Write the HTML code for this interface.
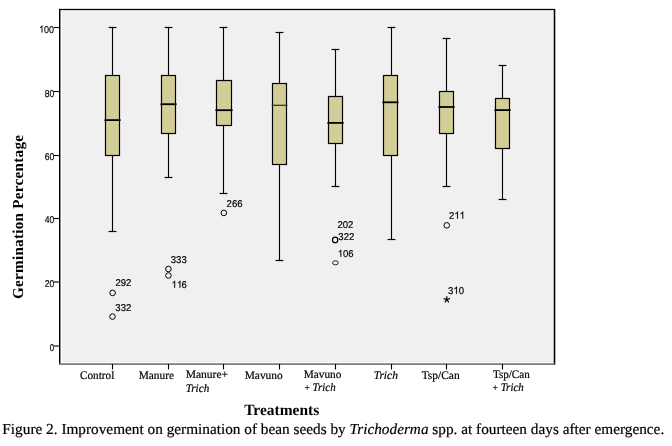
<!DOCTYPE html>
<html><head><meta charset="utf-8"><style>
html,body{margin:0;padding:0;background:#fff;width:672px;height:446px;overflow:hidden}
svg{display:block;will-change:transform}
text{fill:#000;text-rendering:geometricPrecision}
.sans{font-family:"Liberation Sans",sans-serif;stroke:#000;stroke-width:0.18px}
.serif{font-family:"Liberation Serif",serif;stroke:#000;stroke-width:0.2px}
.hid{fill:none;stroke:none}
.one{fill:#000;stroke:#000;stroke-width:36px}
.serifb{font-family:"Liberation Serif",serif;font-weight:bold}
</style></head><body>
<svg width="672" height="446" viewBox="0 0 672 446">
<rect x="61" y="10" width="493" height="353" fill="#ffffff"/>
<rect x="62" y="11" width="491" height="351" fill="#f0f0f0"/>
<rect x="59" y="9" width="1" height="355" fill="#000"/>
<rect x="60" y="9" width="1" height="355" fill="#888"/>
<rect x="59" y="8.85" width="496" height="1.3" fill="#000"/>
<rect x="553.7" y="9" width="1.6" height="356" fill="#000"/>
<rect x="59" y="363.3" width="496" height="1.6" fill="#707070"/>
<line x1="53.8" y1="27.5" x2="59.5" y2="27.5" stroke="#000" stroke-width="1.1"/>
<line x1="53.8" y1="91.5" x2="59.5" y2="91.5" stroke="#000" stroke-width="1.1"/>
<line x1="53.8" y1="155.5" x2="59.5" y2="155.5" stroke="#000" stroke-width="1.1"/>
<line x1="53.8" y1="218.5" x2="59.5" y2="218.5" stroke="#000" stroke-width="1.1"/>
<line x1="53.8" y1="282.0" x2="59.5" y2="282.0" stroke="#000" stroke-width="1.1"/>
<line x1="53.8" y1="346.0" x2="59.5" y2="346.0" stroke="#000" stroke-width="1.1"/>
<line x1="112.5" y1="364" x2="112.5" y2="369.5" stroke="#000" stroke-width="1.1"/>
<line x1="112.5" y1="27.5" x2="112.5" y2="75.5" stroke="#000" stroke-width="1.15"/>
<line x1="112.5" y1="155.5" x2="112.5" y2="231.5" stroke="#000" stroke-width="1.15"/>
<line x1="108.60" y1="27.5" x2="116.40" y2="27.5" stroke="#000" stroke-width="1.2"/>
<line x1="108.60" y1="231.5" x2="116.40" y2="231.5" stroke="#000" stroke-width="1.2"/>
<rect x="105.5" y="75.5" width="14" height="80" fill="#d3ce97" stroke="#000" stroke-width="1.2"/>
<line x1="104.4" y1="120.1" x2="120.6" y2="120.1" stroke="#000" stroke-width="1.8"/>
<line x1="168.5" y1="364" x2="168.5" y2="369.5" stroke="#000" stroke-width="1.1"/>
<line x1="168.5" y1="27.5" x2="168.5" y2="75.5" stroke="#000" stroke-width="1.15"/>
<line x1="168.5" y1="133.5" x2="168.5" y2="177.5" stroke="#000" stroke-width="1.15"/>
<line x1="164.60" y1="27.5" x2="172.40" y2="27.5" stroke="#000" stroke-width="1.2"/>
<line x1="164.60" y1="177.5" x2="172.40" y2="177.5" stroke="#000" stroke-width="1.2"/>
<rect x="161.5" y="75.5" width="14" height="58" fill="#d3ce97" stroke="#000" stroke-width="1.2"/>
<line x1="160.4" y1="104.2" x2="176.6" y2="104.2" stroke="#000" stroke-width="1.8"/>
<line x1="223.5" y1="364" x2="223.5" y2="369.5" stroke="#000" stroke-width="1.1"/>
<line x1="223.5" y1="27.5" x2="223.5" y2="80.5" stroke="#000" stroke-width="1.15"/>
<line x1="223.5" y1="125.5" x2="223.5" y2="193.5" stroke="#000" stroke-width="1.15"/>
<line x1="219.60" y1="27.5" x2="227.40" y2="27.5" stroke="#000" stroke-width="1.2"/>
<line x1="219.60" y1="193.5" x2="227.40" y2="193.5" stroke="#000" stroke-width="1.2"/>
<rect x="216.5" y="80.5" width="15" height="45" fill="#d3ce97" stroke="#000" stroke-width="1.2"/>
<line x1="215.4" y1="110.2" x2="232.6" y2="110.2" stroke="#000" stroke-width="1.8"/>
<line x1="279.5" y1="364" x2="279.5" y2="369.5" stroke="#000" stroke-width="1.1"/>
<line x1="279.5" y1="32.5" x2="279.5" y2="83.5" stroke="#000" stroke-width="1.15"/>
<line x1="279.5" y1="164.5" x2="279.5" y2="260.5" stroke="#000" stroke-width="1.15"/>
<line x1="275.60" y1="32.5" x2="283.40" y2="32.5" stroke="#000" stroke-width="1.2"/>
<line x1="275.60" y1="260.5" x2="283.40" y2="260.5" stroke="#000" stroke-width="1.2"/>
<rect x="272.5" y="83.5" width="14" height="81" fill="#d3ce97" stroke="#000" stroke-width="1.2"/>
<line x1="271.7" y1="105.3" x2="287.4" y2="105.3" stroke="#3a3420" stroke-width="1.3"/>
<line x1="335.5" y1="364" x2="335.5" y2="369.5" stroke="#000" stroke-width="1.1"/>
<line x1="335.5" y1="49.5" x2="335.5" y2="96.5" stroke="#000" stroke-width="1.15"/>
<line x1="335.5" y1="143.5" x2="335.5" y2="186.5" stroke="#000" stroke-width="1.15"/>
<line x1="331.60" y1="49.5" x2="339.40" y2="49.5" stroke="#000" stroke-width="1.2"/>
<line x1="331.60" y1="186.5" x2="339.40" y2="186.5" stroke="#000" stroke-width="1.2"/>
<rect x="328.5" y="96.5" width="14" height="47" fill="#d3ce97" stroke="#000" stroke-width="1.2"/>
<line x1="327.4" y1="122.9" x2="343.6" y2="122.9" stroke="#000" stroke-width="1.8"/>
<line x1="391.5" y1="364" x2="391.5" y2="369.5" stroke="#000" stroke-width="1.1"/>
<line x1="391.5" y1="27.5" x2="391.5" y2="75.5" stroke="#000" stroke-width="1.15"/>
<line x1="391.5" y1="155.5" x2="391.5" y2="239.5" stroke="#000" stroke-width="1.15"/>
<line x1="387.60" y1="27.5" x2="395.40" y2="27.5" stroke="#000" stroke-width="1.2"/>
<line x1="387.60" y1="239.5" x2="395.40" y2="239.5" stroke="#000" stroke-width="1.2"/>
<rect x="383.5" y="75.5" width="14" height="80" fill="#d3ce97" stroke="#000" stroke-width="1.2"/>
<line x1="382.4" y1="102.3" x2="398.6" y2="102.3" stroke="#000" stroke-width="1.8"/>
<line x1="446.5" y1="364" x2="446.5" y2="369.5" stroke="#000" stroke-width="1.1"/>
<line x1="446.5" y1="38.5" x2="446.5" y2="91.5" stroke="#000" stroke-width="1.15"/>
<line x1="446.5" y1="133.5" x2="446.5" y2="186.5" stroke="#000" stroke-width="1.15"/>
<line x1="442.60" y1="38.5" x2="450.40" y2="38.5" stroke="#000" stroke-width="1.2"/>
<line x1="442.60" y1="186.5" x2="450.40" y2="186.5" stroke="#000" stroke-width="1.2"/>
<rect x="439.5" y="91.5" width="14" height="42" fill="#d3ce97" stroke="#000" stroke-width="1.2"/>
<line x1="438.4" y1="107.0" x2="454.6" y2="107.0" stroke="#000" stroke-width="1.8"/>
<line x1="502.5" y1="364" x2="502.5" y2="369.5" stroke="#000" stroke-width="1.1"/>
<line x1="502.5" y1="65.5" x2="502.5" y2="98.5" stroke="#000" stroke-width="1.15"/>
<line x1="502.5" y1="148.5" x2="502.5" y2="199.5" stroke="#000" stroke-width="1.15"/>
<line x1="498.60" y1="65.5" x2="506.40" y2="65.5" stroke="#000" stroke-width="1.2"/>
<line x1="498.60" y1="199.5" x2="506.40" y2="199.5" stroke="#000" stroke-width="1.2"/>
<rect x="495.5" y="98.5" width="14" height="50" fill="#d3ce97" stroke="#000" stroke-width="1.2"/>
<line x1="494.4" y1="110.1" x2="510.6" y2="110.1" stroke="#000" stroke-width="1.8"/>
<circle cx="112.6" cy="292.9" r="2.8" fill="none" stroke="#000" stroke-width="1.0"/>
<circle cx="112.5" cy="316.6" r="2.8" fill="none" stroke="#000" stroke-width="1.0"/>
<circle cx="168.4" cy="269.0" r="2.8" fill="none" stroke="#000" stroke-width="1.0"/>
<circle cx="168.4" cy="275.5" r="2.8" fill="none" stroke="#000" stroke-width="1.0"/>
<circle cx="223.85" cy="212.9" r="2.8" fill="none" stroke="#000" stroke-width="1.0"/>
<circle cx="446.8" cy="225.35" r="2.8" fill="none" stroke="#000" stroke-width="1.0"/>
<ellipse cx="335.15" cy="239.9" rx="2.65" ry="2.85" fill="none" stroke="#000" stroke-width="1.25"/>
<ellipse cx="335.4" cy="262.8" rx="2.85" ry="2.0" fill="none" stroke="#222" stroke-width="1.0"/>
<path d="M446.80 299.60L446.80 296.15M446.80 299.60L450.08 298.53M446.80 299.60L448.83 302.39M446.80 299.60L444.77 302.39M446.80 299.60L443.52 298.53" stroke="#000" stroke-width="1.15" fill="none"/>
<text transform="translate(22.6,299.0) rotate(-90)" x="0" y="0" class="serifb" style="font-size:15.2px;letter-spacing:0.25px">Germination Percentage</text>
<g transform="translate(39.01,32.60) scale(0.9150,1)"><text class="sans" style="font-size:9.9px"><tspan class="hid">1</tspan>00</text><path class="one" transform="translate(0.000,0) scale(0.004834,-0.004834)" d="M763 0L583 0L583 1147Q518 1085 412 1023Q306 961 221 930L221 1104Q372 1175 485 1276Q598 1377 645 1472L763 1472Z"/></g>
<g transform="translate(44.63,96.60) scale(0.8700,1)"><text class="sans" style="font-size:9.9px">80</text></g>
<g transform="translate(44.63,159.80) scale(0.8700,1)"><text class="sans" style="font-size:9.9px">60</text></g>
<g transform="translate(44.63,222.80) scale(0.8700,1)"><text class="sans" style="font-size:9.9px">40</text></g>
<g transform="translate(44.64,286.80) scale(0.8700,1)"><text class="sans" style="font-size:9.9px">20</text></g>
<g transform="translate(49.75,350.70) scale(0.8000,1)"><text class="sans" style="font-size:9.9px">0</text></g>
<g transform="translate(115.51,286.00) scale(0.9650,1)"><text class="sans" style="font-size:9.9px">292</text></g>
<g transform="translate(115.36,311.00) scale(0.9650,1)"><text class="sans" style="font-size:9.9px">332</text></g>
<g transform="translate(170.82,262.50) scale(0.9650,1)"><text class="sans" style="font-size:9.9px">333</text></g>
<g transform="translate(171.54,287.80) scale(0.9650,1)"><text class="sans" style="font-size:9.9px"><tspan class="hid">1</tspan><tspan class="hid">1</tspan>6</text><path class="one" transform="translate(0.000,0) scale(0.004834,-0.004834)" d="M763 0L583 0L583 1147Q518 1085 412 1023Q306 961 221 930L221 1104Q372 1175 485 1276Q598 1377 645 1472L763 1472Z"/><path class="one" transform="translate(5.506,0) scale(0.004834,-0.004834)" d="M763 0L583 0L583 1147Q518 1085 412 1023Q306 961 221 930L221 1104Q372 1175 485 1276Q598 1377 645 1472L763 1472Z"/></g>
<g transform="translate(226.58,207.05) scale(0.9650,1)"><text class="sans" style="font-size:9.9px">266</text></g>
<g transform="translate(337.52,227.60) scale(0.9650,1)"><text class="sans" style="font-size:9.9px">202</text></g>
<g transform="translate(338.36,240.00) scale(0.9650,1)"><text class="sans" style="font-size:9.9px">322</text></g>
<g transform="translate(337.70,256.80) scale(0.9650,1)"><text class="sans" style="font-size:9.9px"><tspan class="hid">1</tspan>06</text><path class="one" transform="translate(0.000,0) scale(0.004834,-0.004834)" d="M763 0L583 0L583 1147Q518 1085 412 1023Q306 961 221 930L221 1104Q372 1175 485 1276Q598 1377 645 1472L763 1472Z"/></g>
<g transform="translate(449.01,218.70) scale(0.9650,1)"><text class="sans" style="font-size:9.9px">2<tspan class="hid">1</tspan><tspan class="hid">1</tspan></text><path class="one" transform="translate(5.506,0) scale(0.004834,-0.004834)" d="M763 0L583 0L583 1147Q518 1085 412 1023Q306 961 221 930L221 1104Q372 1175 485 1276Q598 1377 645 1472L763 1472Z"/><path class="one" transform="translate(11.012,0) scale(0.004834,-0.004834)" d="M763 0L583 0L583 1147Q518 1085 412 1023Q306 961 221 930L221 1104Q372 1175 485 1276Q598 1377 645 1472L763 1472Z"/></g>
<g transform="translate(448.07,293.70) scale(0.9650,1)"><text class="sans" style="font-size:9.9px">3<tspan class="hid">1</tspan>0</text><path class="one" transform="translate(5.506,0) scale(0.004834,-0.004834)" d="M763 0L583 0L583 1147Q518 1085 412 1023Q306 961 221 930L221 1104Q372 1175 485 1276Q598 1377 645 1472L763 1472Z"/></g>
<text transform="translate(80.04,378.75) scale(0.9741,1)" class="serif" style="font-size:11.5px">Control</text>
<text transform="translate(138.68,378.75) scale(0.9881,1)" class="serif" style="font-size:11.5px">Manure</text>
<text transform="translate(185.67,377.80) scale(1.0025,1)" class="serif" style="font-size:11.5px">Manure+</text>
<text transform="translate(185.66,391.70) scale(0.9729,1)" class="serif" style="font-size:11.5px"><tspan font-style="italic">Trich</tspan></text>
<text transform="translate(244.68,378.75) scale(0.9921,1)" class="serif" style="font-size:11.5px">Mavuno</text>
<text transform="translate(303.68,377.90) scale(0.9819,1)" class="serif" style="font-size:11.5px">Mavuno</text>
<text transform="translate(304.39,391.40) scale(0.9521,1)" class="serif" style="font-size:11.5px"><tspan style="font-size:10px">+</tspan> <tspan font-style="italic">Trich</tspan></text>
<text transform="translate(373.65,378.90) scale(0.9970,1)" class="serif" style="font-size:11.5px"><tspan font-style="italic">Trich</tspan></text>
<text transform="translate(421.64,378.80) scale(0.9951,1)" class="serif" style="font-size:11.5px">Tsp/Can</text>
<text transform="translate(492.93,377.80) scale(0.9644,1)" class="serif" style="font-size:11.5px">Tsp/Can</text>
<text transform="translate(492.53,391.30) scale(0.9520,1)" class="serif" style="font-size:11.5px"><tspan style="font-size:10px">+</tspan> <tspan font-style="italic">Trich</tspan></text>
<text transform="translate(244.19,415.00) scale(0.9890,1)" class="serifb" style="font-size:15.65px">Treatments</text>
<text transform="translate(2.37,433.95) scale(1.0022,1)" class="serif" style="font-size:15.25px">Figure 2. Improvement on germination of bean seeds by <tspan font-style="italic">Trichoderma</tspan> spp. at fourteen days after emergence.</text>
</svg>
</body></html>
